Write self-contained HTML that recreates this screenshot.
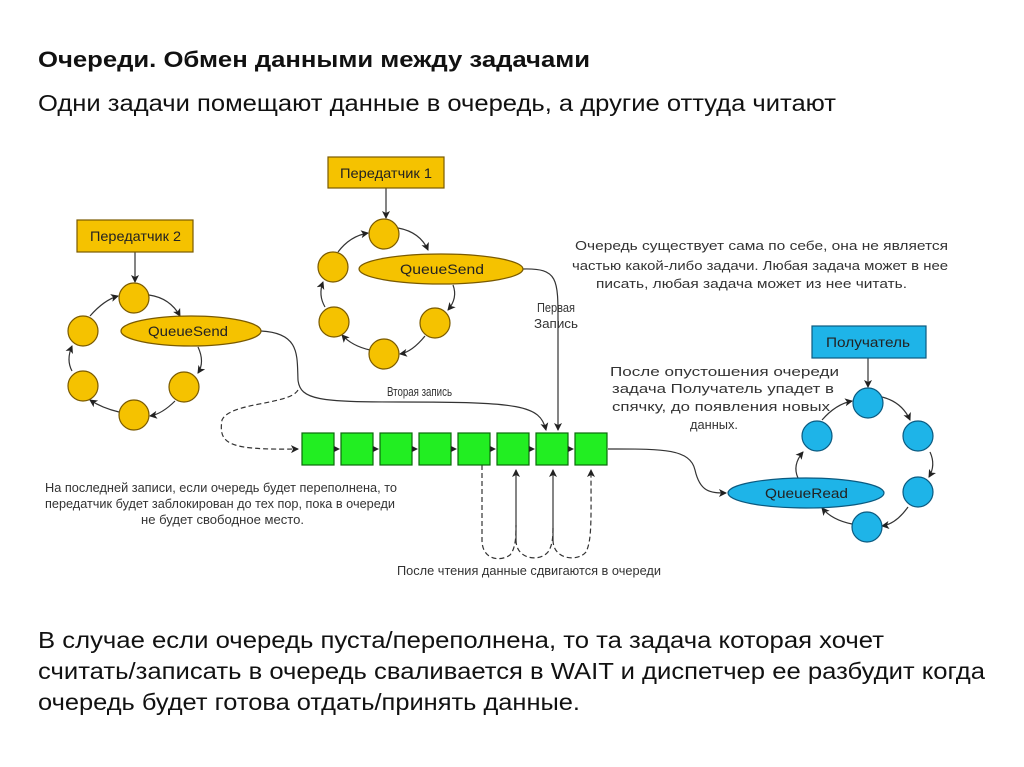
<!DOCTYPE html>
<html><head><meta charset="utf-8"><style>
body{margin:0;background:#fff;width:1024px;height:767px;overflow:hidden;font-family:"Liberation Sans",sans-serif}
svg{position:absolute;left:0;top:0}
</style></head><body>
<svg width="1024" height="767" viewBox="0 0 1024 767" font-family="Liberation Sans, sans-serif">
<defs>
<marker id="a" markerWidth="8" markerHeight="8" refX="7" refY="4" orient="auto" markerUnits="userSpaceOnUse"><path d="M0,0 L8,4 L0,8 L2,4 Z" fill="#222"/></marker>
</defs>
<text x="38" y="67" font-size="22" font-weight="bold" fill="#111" textLength="552" lengthAdjust="spacingAndGlyphs">Очереди. Обмен данными между задачами</text>
<text x="38" y="111" font-size="23" fill="#111" textLength="798" lengthAdjust="spacingAndGlyphs">Одни задачи помещают данные в очередь, а другие оттуда читают</text>

<g stroke="#333" stroke-width="1.2" fill="none">
<path d="M386,188 V218" marker-end="url(#a)"/>
<path d="M398,228 Q420,232 428,250" marker-end="url(#a)"/>
<path d="M453,285 Q458,298 448,310" marker-end="url(#a)"/>
<path d="M425,336 Q412,352 400,354" marker-end="url(#a)"/>
<path d="M370,350 Q352,346 342,335" marker-end="url(#a)"/>
<path d="M325,307 Q318,295 323,282" marker-end="url(#a)"/>
<path d="M338,252 Q350,236 368,233" marker-end="url(#a)"/>
<path d="M135,252 V282" marker-end="url(#a)"/>
<path d="M149,295 Q170,298 180,316" marker-end="url(#a)"/>
<path d="M198,347 Q205,362 198,373" marker-end="url(#a)"/>
<path d="M175,401 Q162,414 150,416" marker-end="url(#a)"/>
<path d="M119,412 Q102,408 90,400" marker-end="url(#a)"/>
<path d="M72,371 Q66,360 72,346" marker-end="url(#a)"/>
<path d="M90,316 Q104,300 118,296" marker-end="url(#a)"/>
<path d="M868,358 V387" marker-end="url(#a)"/>
<path d="M882,397 Q902,402 910,420" marker-end="url(#a)"/>
<path d="M930,452 Q936,465 929,477" marker-end="url(#a)"/>
<path d="M908,507 Q896,524 882,526" marker-end="url(#a)"/>
<path d="M852,524 Q832,520 822,508" marker-end="url(#a)"/>
<path d="M798,478 Q792,465 803,452" marker-end="url(#a)"/>
<path d="M822,420 Q836,404 852,401" marker-end="url(#a)"/>
<path d="M523,269 C560,268 558,280 558,330 V430" marker-end="url(#a)"/>
<path d="M261,331 C300,333 297,355 298,380 C300,400 320,402 400,402 C520,402 540,405 546,430" marker-end="url(#a)"/>
<path d="M298,390 C290,405 230,402 222,420 C218,445 230,450 298,449" stroke-dasharray="5,3" marker-end="url(#a)"/>
<path d="M608,449 C660,449 690,448 695,470 C700,492 710,493 726,493" marker-end="url(#a)"/>
<path d="M482,465 V540 C482,560 500,562 510,555 C516,548 516,535 516,525" stroke-dasharray="5,3"/>
<path d="M516,540 C516,560 540,562 548,552 C553,545 553,535 553,525" stroke-dasharray="5,3"/>
<path d="M553,540 C553,560 578,562 586,552 C592,540 591,520 591,470" stroke-dasharray="5,3" marker-end="url(#a)"/>
<path d="M516,540 V470" marker-end="url(#a)"/>
<path d="M553,540 V470" marker-end="url(#a)"/>
</g>

<g fill="#f5c200" stroke="#7a5a00" stroke-width="1.2">
<rect x="328" y="157" width="116" height="31"/>
<rect x="77" y="220" width="116" height="32"/>
<circle cx="384" cy="234" r="15"/><circle cx="333" cy="267" r="15"/><circle cx="334" cy="322" r="15"/><circle cx="384" cy="354" r="15"/><circle cx="435" cy="323" r="15"/>
<ellipse cx="441" cy="269" rx="82" ry="15"/>
<circle cx="134" cy="298" r="15"/><circle cx="83" cy="331" r="15"/><circle cx="83" cy="386" r="15"/><circle cx="134" cy="415" r="15"/><circle cx="184" cy="387" r="15"/>
<ellipse cx="191" cy="331" rx="70" ry="15"/>
</g>
<g fill="#1eb4e8" stroke="#0b5a80" stroke-width="1.2">
<rect x="812" y="326" width="114" height="32"/>
<circle cx="868" cy="403" r="15"/><circle cx="918" cy="436" r="15"/><circle cx="918" cy="492" r="15"/><circle cx="867" cy="527" r="15"/><circle cx="817" cy="436" r="15"/>
<ellipse cx="806" cy="493" rx="78" ry="15"/>
</g>
<g fill="#22ee22" stroke="#0a6a0a" stroke-width="1.2">
<rect x="302" y="433" width="32" height="32"/><rect x="341" y="433" width="32" height="32"/><rect x="380" y="433" width="32" height="32"/><rect x="419" y="433" width="32" height="32"/><rect x="458" y="433" width="32" height="32"/><rect x="497" y="433" width="32" height="32"/><rect x="536" y="433" width="32" height="32"/><rect x="575" y="433" width="32" height="32"/>
</g>
<g fill="#222">
<path d="M334,446 l6,3 l-6,3z"/><path d="M373,446 l6,3 l-6,3z"/><path d="M412,446 l6,3 l-6,3z"/><path d="M451,446 l6,3 l-6,3z"/><path d="M490,446 l6,3 l-6,3z"/><path d="M529,446 l6,3 l-6,3z"/><path d="M568,446 l6,3 l-6,3z"/>
</g>
<g font-size="14" fill="#222">
<text x="340" y="178" textLength="92" lengthAdjust="spacingAndGlyphs">Передатчик 1</text>
<text x="90" y="241" textLength="91" lengthAdjust="spacingAndGlyphs">Передатчик 2</text>
<text x="400" y="274" textLength="84" lengthAdjust="spacingAndGlyphs">QueueSend</text>
<text x="148" y="336" textLength="80" lengthAdjust="spacingAndGlyphs">QueueSend</text>
<text x="826" y="347" textLength="84" lengthAdjust="spacingAndGlyphs">Получатель</text>
<text x="765" y="498" textLength="83" lengthAdjust="spacingAndGlyphs">QueueRead</text>
</g>
<g font-size="13" fill="#333">
<text x="575" y="250" textLength="373" lengthAdjust="spacingAndGlyphs">Очередь существует сама по себе, она не является</text>
<text x="572" y="270" textLength="376" lengthAdjust="spacingAndGlyphs">частью какой-либо задачи. Любая задача может в нее</text>
<text x="596" y="288" textLength="311" lengthAdjust="spacingAndGlyphs">писать, любая задача может из нее читать.</text>
<text x="537" y="312" textLength="38" lengthAdjust="spacingAndGlyphs">Первая</text>
<text x="534" y="328" textLength="44" lengthAdjust="spacingAndGlyphs">Запись</text>
<text x="387" y="396" textLength="65" lengthAdjust="spacingAndGlyphs">Вторая запись</text>
<text x="610" y="376" textLength="229" lengthAdjust="spacingAndGlyphs">После опустошения очереди</text>
<text x="612" y="393" textLength="222" lengthAdjust="spacingAndGlyphs">задача Получатель упадет в</text>
<text x="612" y="411" textLength="218" lengthAdjust="spacingAndGlyphs">спячку, до появления новых</text>
<text x="690" y="429" textLength="48" lengthAdjust="spacingAndGlyphs">данных.</text>
<text x="45" y="492" textLength="352" lengthAdjust="spacingAndGlyphs">На последней записи, если очередь будет переполнена, то</text>
<text x="45" y="508" textLength="350" lengthAdjust="spacingAndGlyphs">передатчик будет заблокирован до тех пор, пока в очереди</text>
<text x="141" y="524" textLength="163" lengthAdjust="spacingAndGlyphs">не будет свободное место.</text>
<text x="397" y="575" textLength="264" lengthAdjust="spacingAndGlyphs">После чтения данные сдвигаются в очереди</text>
</g>
<g font-size="23" fill="#111">
<text x="38" y="648" textLength="846" lengthAdjust="spacingAndGlyphs">В случае если очередь пуста/переполнена, то та задача которая хочет</text>
<text x="38" y="679" textLength="947" lengthAdjust="spacingAndGlyphs">считать/записать в очередь сваливается в WAIT и диспетчер ее разбудит когда</text>
<text x="38" y="710" textLength="542" lengthAdjust="spacingAndGlyphs">очередь будет готова отдать/принять данные.</text>
</g>
</svg>
</body></html>
